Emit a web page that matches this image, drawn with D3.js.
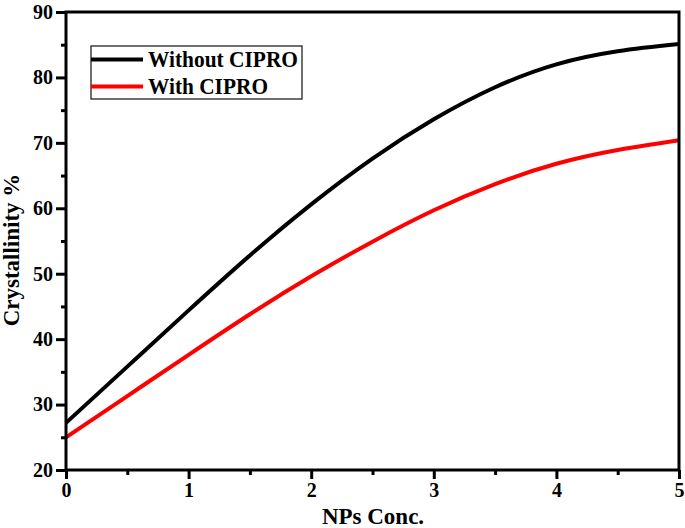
<!DOCTYPE html>
<html><head><meta charset="utf-8">
<script src="https://cdn.jsdelivr.net/npm/d3@7"></script>
<style>body{margin:0;background:#fff}svg{display:block}text{font-family:"Liberation Serif","Times New Roman",serif;font-weight:bold}</style>
</head><body><svg id="c" width="685" height="528"></svg>
<script>
const xValues = [0, 0.5, 1, 1.5, 2, 2.5, 3, 3.5, 4, 4.5, 5];
const withoutCipro = [27.2, 35.8, 44.4, 52.8, 60.6, 67.6, 73.6, 78.5, 82.0, 84.0, 85.1];
const withCipro = [25.0, 31.3, 37.6, 43.8, 49.6, 54.9, 59.7, 63.7, 66.8, 68.9, 70.4];
const seriesNames = ["Without CIPRO", "With CIPRO"];
const seriesColors = ["#000000", "#ff0000"];
const xTicks = [0, 1, 2, 3, 4, 5];
const yTicks = [20, 30, 40, 50, 60, 70, 80, 90];

const L = 66, R = 679, T = 12, B = 470;
const svg = d3.select("#c");
const x = d3.scaleLinear().domain([0, 5]).range([L, R]);
const y = d3.scaleLinear().domain([20, 90]).range([B, T]);

// minor ticks
const gx = svg.append("g").attr("transform", `translate(0,${B})`);
gx.call(d3.axisBottom(x).tickValues(d3.range(0.5, 5, 1)).tickSize(5).tickFormat(""));
gx.call(g => g.selectAll(".tick line").attr("stroke-width", 3));
gx.select(".domain").remove();
const gx2 = svg.append("g").attr("transform", `translate(0,${B})`)
  .call(d3.axisBottom(x).tickValues(xTicks).tickSize(9).tickPadding(4).tickFormat(d3.format("d")));
gx2.select(".domain").remove();
gx2.selectAll(".tick line").attr("stroke-width", 3);
gx2.selectAll("text").attr("font-size", 20).attr("fill", "#000").attr("font-family", "Liberation Serif").attr("font-weight", "bold");

const gy = svg.append("g").attr("transform", `translate(${L},0)`);
gy.call(d3.axisLeft(y).tickValues(d3.range(25, 90, 10)).tickSize(5).tickFormat(""));
gy.select(".domain").remove();
gy.selectAll(".tick line").attr("stroke-width", 3);
const gy2 = svg.append("g").attr("transform", `translate(${L},0)`)
  .call(d3.axisLeft(y).tickValues(yTicks).tickSize(10).tickPadding(3).tickFormat(d3.format("d")));
gy2.select(".domain").remove();
gy2.selectAll(".tick line").attr("stroke-width", 3);
gy2.selectAll("text").attr("font-size", 20).attr("fill", "#000").attr("font-family", "Liberation Serif").attr("font-weight", "bold");

// lines
const line = d3.line().x((d, i) => x(xValues[i])).y(d => y(d)).curve(d3.curveNatural);
[withoutCipro, withCipro].forEach((s, i) => {
  svg.append("path").attr("d", line(s)).attr("fill", "none")
    .attr("stroke", seriesColors[i]).attr("stroke-width", 4);
});

// frame
svg.append("rect").attr("x", L).attr("y", T).attr("width", R - L).attr("height", B - T)
  .attr("fill", "none").attr("stroke", "#000").attr("stroke-width", 3);

// legend
svg.append("rect").attr("x", 91).attr("y", 46).attr("width", 211).attr("height", 53)
  .attr("fill", "none").attr("stroke", "#222").attr("stroke-width", 1.3);
seriesNames.forEach((n, i) => {
  const ly = 59.5 + i * 27;
  svg.append("line").attr("x1", 91).attr("x2", 143).attr("y1", ly).attr("y2", ly)
    .attr("stroke", seriesColors[i]).attr("stroke-width", 4);
  svg.append("text").attr("x", 148).attr("y", ly + 7.5).attr("font-size", 23)
    .attr("textLength", i === 0 ? 150 : 120).attr("lengthAdjust", "spacingAndGlyphs")
    .attr("fill", "#000").text(n);
});

// axis titles
svg.append("text").attr("x", 373).attr("y", 524).attr("text-anchor", "middle")
  .attr("font-size", 23).attr("fill", "#000").text("NPs Conc.");
svg.append("text").attr("transform", "translate(19,250) rotate(-90)").attr("text-anchor", "middle")
  .attr("font-size", 23).attr("fill", "#000").text("Crystallinity %");
</script></body></html>
